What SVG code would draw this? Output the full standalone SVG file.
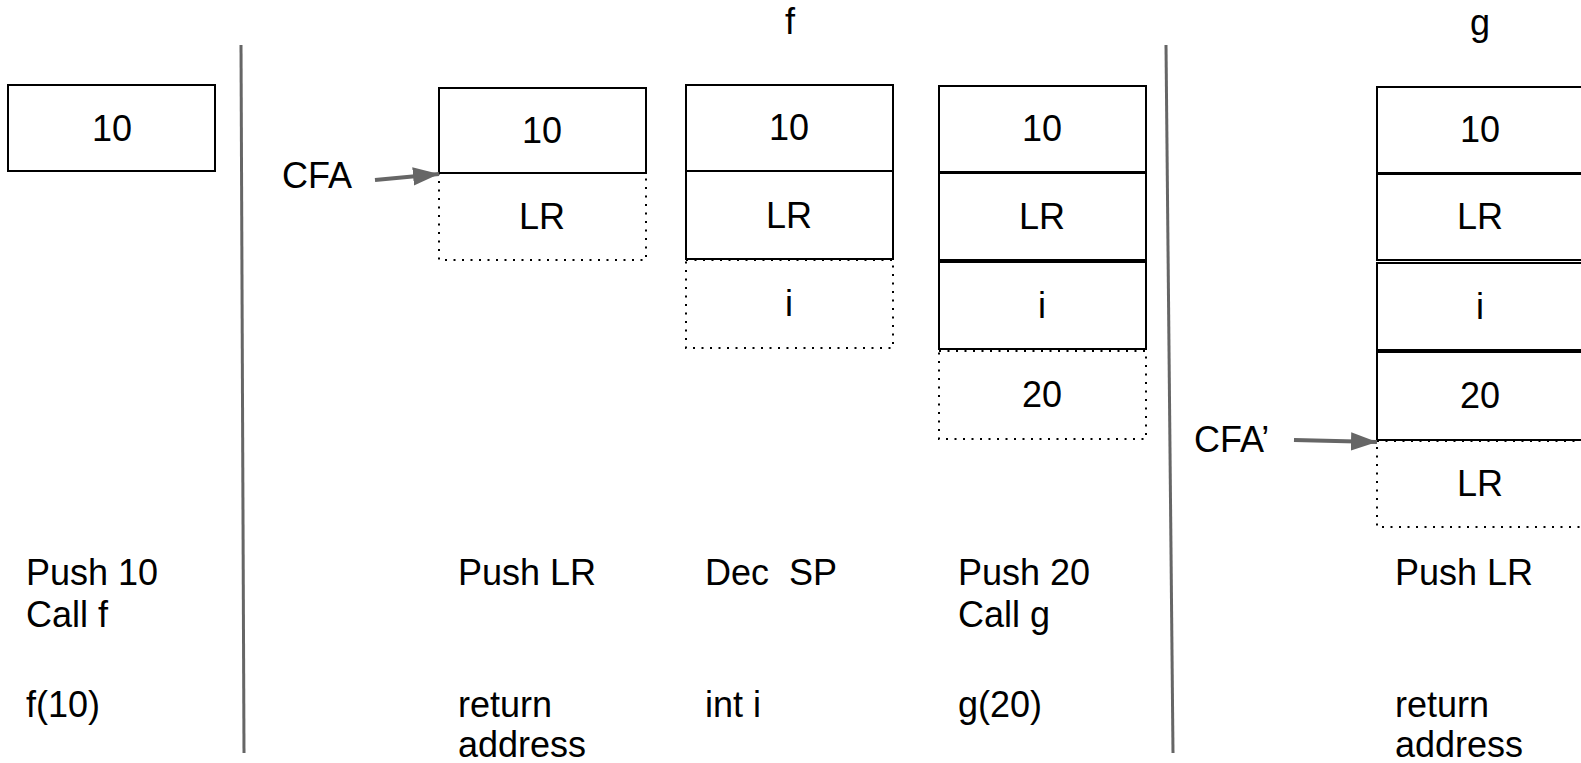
<svg xmlns="http://www.w3.org/2000/svg" width="1581" height="763" viewBox="0 0 1581 763">
  <defs>
    <style>
      text { font-family: "Liberation Sans", Arial, sans-serif; font-size: 36px; fill: #000; }
      .c { text-anchor: middle; }
      .cell { fill: #fff; stroke: #000; stroke-width: 2; }
      .dot { fill: #fff; stroke: #000; stroke-width: 2; stroke-dasharray: 2 6.5; }
      .sep { stroke: #666; stroke-width: 3; fill: none; }
      .arr { stroke: #666; stroke-width: 4; fill: none; marker-end: url(#head); }
    </style>
    <marker id="head" viewBox="0 0 10 7" refX="10" refY="3.5" markerWidth="6.5" markerHeight="4.6" markerUnits="strokeWidth" orient="auto">
      <path d="M0,0 L10,3.5 L0,7 Z" fill="#666"/>
    </marker>
  </defs>
  <rect width="1581" height="763" fill="#fff"/>

  <!-- frame headings -->
  <text class="c" x="790" y="34">f</text>
  <text class="c" x="1480" y="35">g</text>

  <!-- frame separators -->
  <g id="separators">
    <line class="sep" x1="241" y1="45" x2="244" y2="753"/>
    <line class="sep" x1="1166" y1="45" x2="1173" y2="753"/>
  </g>

  <!-- caller: argument pushed -->
  <g id="stack0">
    <rect class="cell" x="8" y="85" width="207" height="86"/>
    <text class="c" x="112" y="141">10</text>
  </g>

  <!-- f: push LR -->
  <g id="stack1">
    <rect class="dot" x="439" y="173" width="207" height="87"/>
    <rect class="cell" x="439" y="88" width="207" height="85"/>
    <text class="c" x="542" y="143">10</text>
    <text class="c" x="542" y="229">LR</text>
  </g>

  <!-- f: dec SP -->
  <g id="stack2">
    <rect class="dot" x="686" y="260" width="207" height="88"/>
    <rect class="cell" x="686" y="85" width="207" height="86"/>
    <rect class="cell" x="686" y="171" width="207" height="88"/>
    <text class="c" x="789" y="140">10</text>
    <text class="c" x="789" y="228">LR</text>
    <text class="c" x="789" y="316">i</text>
  </g>

  <!-- f: push 20, call g -->
  <g id="stack3">
    <rect class="dot" x="939" y="351" width="207" height="88"/>
    <rect class="cell" x="939" y="86" width="207" height="86"/>
    <rect class="cell" x="939" y="173" width="207" height="87"/>
    <rect class="cell" x="939" y="262" width="207" height="87"/>
    <text class="c" x="1042" y="141">10</text>
    <text class="c" x="1042" y="229">LR</text>
    <text class="c" x="1042" y="318">i</text>
    <text class="c" x="1042" y="407">20</text>
  </g>

  <!-- g: push LR -->
  <g id="stack4">
    <rect class="dot" x="1377" y="441" width="207" height="86"/>
    <rect class="cell" x="1377" y="87" width="207" height="86"/>
    <rect class="cell" x="1377" y="174" width="207" height="86"/>
    <rect class="cell" x="1377" y="263" width="207" height="87"/>
    <rect class="cell" x="1377" y="352" width="207" height="88"/>
    <text class="c" x="1480" y="142">10</text>
    <text class="c" x="1480" y="229">LR</text>
    <text class="c" x="1480" y="319">i</text>
    <text class="c" x="1480" y="408">20</text>
    <text class="c" x="1480" y="496">LR</text>
  </g>

  <!-- CFA pointers -->
  <g id="cfa">
    <text x="282" y="188">CFA</text>
  </g>
  <g id="cfa2">
    <text x="1194" y="452">CFA’</text>
  </g>
  <g id="connectors">
    <line class="arr" x1="375" y1="180" x2="439" y2="174"/>
    <line class="arr" x1="1294" y1="440" x2="1377" y2="442"/>
  </g>

  <!-- instruction / source captions -->
  <g id="captions">
    <text x="26" y="585">Push 10</text>
    <text x="26" y="627">Call f</text>
    <text x="26" y="717">f(10)</text>

    <text x="458" y="585">Push LR</text>
    <text x="458" y="717">return</text>
    <text x="458" y="757">address</text>

    <text x="705" y="585" xml:space="preserve">Dec  SP</text>
    <text x="705" y="717">int i</text>

    <text x="958" y="585">Push 20</text>
    <text x="958" y="627">Call g</text>
    <text x="958" y="717">g(20)</text>

    <text x="1395" y="585">Push LR</text>
    <text x="1395" y="717">return</text>
    <text x="1395" y="757">address</text>
  </g>
</svg>
